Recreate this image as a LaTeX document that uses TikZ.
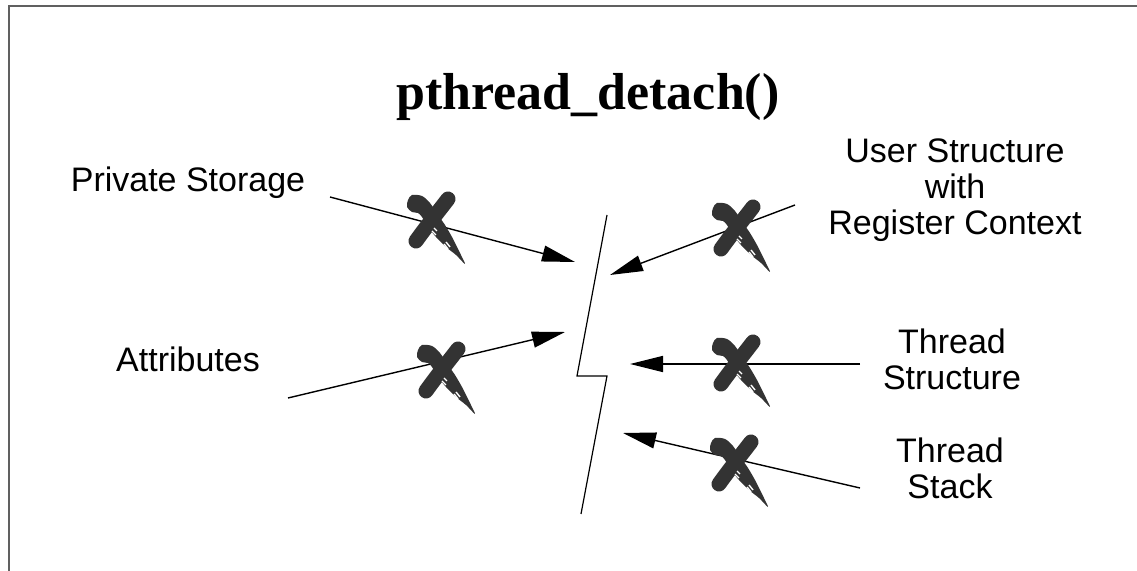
\documentclass[tikz,border=0pt]{standalone}
\usepackage{fontspec}
\setmainfont{Liberation Serif}
\newfontfamily\labelfont{Liberation Sans}
\usetikzlibrary{arrows.meta}
\definecolor{crossgray}{RGB}{51,51,51}
\definecolor{framegray}{RGB}{96,96,96}
\tikzset{
  lbl/.style={font=\labelfont\fontsize{17}{18}\selectfont, align=center, inner sep=0pt},
  ptr/.style={line width=0.7pt, -{Triangle[length=16.5pt,width=8pt]}},
  % brush-painted cross
  brushx/.pic={
    \fill[crossgray] plot[smooth cycle, tension=0.5] coordinates
      {(-18,-30) (-8,-29) (0,-22) (8,-10) (15,0) (22,12) (30,28) (35,39)
       (26,30) (16,22) (6,12) (-2,2) (-8,-8) (-12,-12) (-18,-13) (-23,-18) (-22,-25)};
    \draw[crossgray, line width=7.5pt, line cap=round] (18,-26) .. controls (8,-13) and (-4,2) .. (-14,16);
    \draw[white, line width=0.7pt] (2,6) -- (6,10) (4,3) -- (7,6) (14,19) -- (18,24) (16,17) -- (20,22);
  }
}
\begin{document}
\begin{tikzpicture}[x=0.5pt, y=-0.5pt]
    \useasboundingbox (0,0) rectangle (1137,571);
    % Frame
    \draw[framegray, line width=1pt] (9,571) -- (9,6) -- (1137,6);
    % Title
    \node[font=\bfseries\fontsize{26}{30}\selectfont, anchor=base] (title) at (588,110) {pthread\_detach()};
    % Labels
    \node[lbl, anchor=base] (private) at (188,192) {Private Storage};
    \node[lbl, anchor=base] (attr) at (188,372) {Attributes};
    \node[lbl] (user) at (955,190) {User Structure\\with\\Register Context};
    \node[lbl] (tstruct) at (952,359) {Thread\\Structure};
    \node[lbl] (tstack) at (950,468) {Thread\\Stack};
    % Broken line
    \coordinate (j1) at (607,215);
    \coordinate (j2) at (577,376);
    \coordinate (j3) at (607,376);
    \coordinate (j4) at (581,514);
    \draw[line width=0.6pt] (j1) -- (j2) -- (j3) -- (j4);
    % Arrow ends
    \coordinate (ps-a) at (330,197);  \coordinate (ps-b) at (575,262);
    \coordinate (at-a) at (288,398);  \coordinate (at-b) at (565,332);
    \coordinate (us-a) at (795,205);  \coordinate (us-b) at (610,275);
    \coordinate (ts-a) at (860,364);  \coordinate (ts-b) at (630,364);
    \coordinate (tk-a) at (860,488);  \coordinate (tk-b) at (623,433);
    % Arrows
    \draw[ptr] (ps-a) -- (ps-b);
    \draw[ptr] (at-a) -- (at-b);
    \draw[ptr] (us-a) -- (us-b);
    \draw[ptr] (ts-a) -- (ts-b);
    \draw[ptr] (tk-a) -- (tk-b);
    % Crosses
    \pic at (430,225) {brushx};
    \pic at (440,375) {brushx};
    \pic at (735,233) {brushx};
    \pic at (735,368) {brushx};
    \pic at (733,468) {brushx};
\end{tikzpicture}
\end{document}
